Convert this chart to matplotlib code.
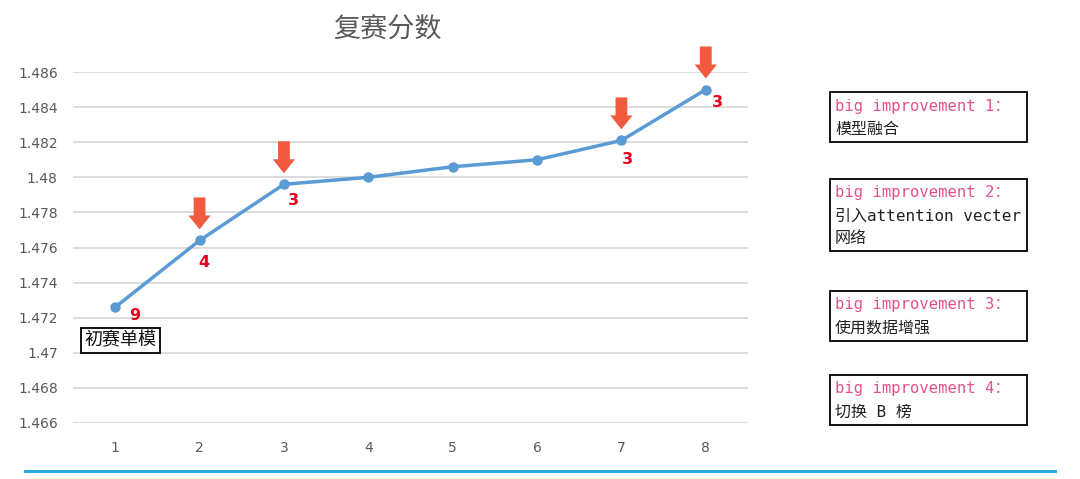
import matplotlib
matplotlib.use("Agg")
import matplotlib.pyplot as plt
from matplotlib.patches import Rectangle
from matplotlib.lines import Line2D
from matplotlib.ticker import FuncFormatter, MultipleLocator

plt.rcParams['font.family'] = ['DejaVu Sans', 'Noto Sans CJK SC']

# ---- data ----
title = "复赛分数"
rounds = [1, 2, 3, 4, 5, 6, 7, 8]
scores = [1.4726, 1.4764, 1.4796, 1.4800, 1.4806, 1.4810, 1.4821, 1.4850]
rank_labels = ["9", "4", "3", "", "", "", "3", "3"]
arrow_rounds = [2, 3, 7, 8]
first_note = "初赛单模"
improve_heads = ["big improvement 1：", "big improvement 2：",
                 "big improvement 3：", "big improvement 4："]
improve_texts = [["模型融合"], ["引入attention vecter", "网络"],
                 ["使用数据增强"], ["切换 B 榜"]]

W, H = 1080, 479
fig = plt.figure(figsize=(W / 100, H / 100), dpi=100)
ax = fig.add_axes([73 / W, 1 - 423 / H, (748 - 73) / W, (423 - 72) / H])

ax.set_xlim(0.5, 8.5)
ax.set_ylim(1.466, 1.486)
ax.yaxis.set_major_locator(MultipleLocator(0.002))
ax.yaxis.set_major_formatter(FuncFormatter(lambda v, p: f"{round(v, 3):g}"))
ax.set_xticks(rounds)
ax.set_xticklabels([str(r) for r in rounds])
ax.grid(axis='y', color='#D9D9D9', linewidth=1.3)
ax.set_axisbelow(True)
for s in ax.spines.values():
    s.set_visible(False)
ax.tick_params(axis='both', length=0, labelsize=10, labelcolor='#595959')
ax.tick_params(axis='x', pad=13)
ax.tick_params(axis='y', pad=11)

ax.plot(rounds, scores, color='#5B9BD5', linewidth=2.5, marker='o',
        markersize=6.5, markerfacecolor='#5B9BD5', markeredgecolor='#5B9BD5',
        clip_on=False, zorder=3)

# rank labels
label_offsets = {0: (19, -8), 1: (4, -22), 2: (9, -16), 6: (6, -19), 7: (12, -13)}
for i, lab in enumerate(rank_labels):
    if lab:
        dx, dy = label_offsets[i]
        ax.annotate(lab, xy=(rounds[i], scores[i]), xytext=(dx, dy),
                    textcoords='offset pixels', ha='center', va='center',
                    color='#E8001C', fontsize=11.5, fontweight='bold')

# arrows
for r in arrow_rounds:
    v = scores[rounds.index(r)]
    ax.annotate('', xy=(r, v), xytext=(0, 31), textcoords='offset points',
                arrowprops=dict(arrowstyle='simple,head_length=1.0,head_width=1.6,tail_width=0.85',
                                color='#F25A3F', shrinkA=0, shrinkB=8, lw=0),
                annotation_clip=False)

# first note box
ax.annotate(first_note, xy=(rounds[0], scores[0]), xytext=(-31, -33),
            textcoords='offset pixels', ha='left', va='center',
            fontsize=13, color='#111111', family=['Noto Sans CJK SC'],
            bbox=dict(boxstyle='square,pad=0.2', fc='white', ec='black', lw=1.3))

# title
fig.text(387 / W, 1 - 29 / H, title, ha='center', va='center', fontsize=19.5,
         color='#595959', family=['Noto Sans CJK SC'])

# improvement boxes
box_tops = [92, 179, 291, 375]
box_heights = [50, 72, 50, 50]
mono = ['DejaVu Sans Mono', 'Noto Sans CJK SC']
for top, hgt, head, lines in zip(box_tops, box_heights, improve_heads, improve_texts):
    fig.add_artist(Rectangle((830 / W, 1 - (top + hgt) / H), 197 / W, hgt / H,
                             transform=fig.transFigure, fill=False,
                             edgecolor='black', linewidth=1.3))
    fig.text(835 / W, 1 - (top + 14) / H, head, ha='left', va='center',
             fontsize=11.2, color='#E4508C', family=mono)
    for k, ln in enumerate(lines):
        fig.text(835 / W, 1 - (top + 37 + 22.5 * k) / H, ln, ha='left', va='center',
                 fontsize=11.5, color='#222222', family=mono)

# bottom decorative line
fig.add_artist(Line2D([25 / W, 1055 / W], [1 - 471 / H, 1 - 471 / H],
                      transform=fig.transFigure, color='#29A8E0', linewidth=2.2))

fig.savefig("out.png", dpi=100)
